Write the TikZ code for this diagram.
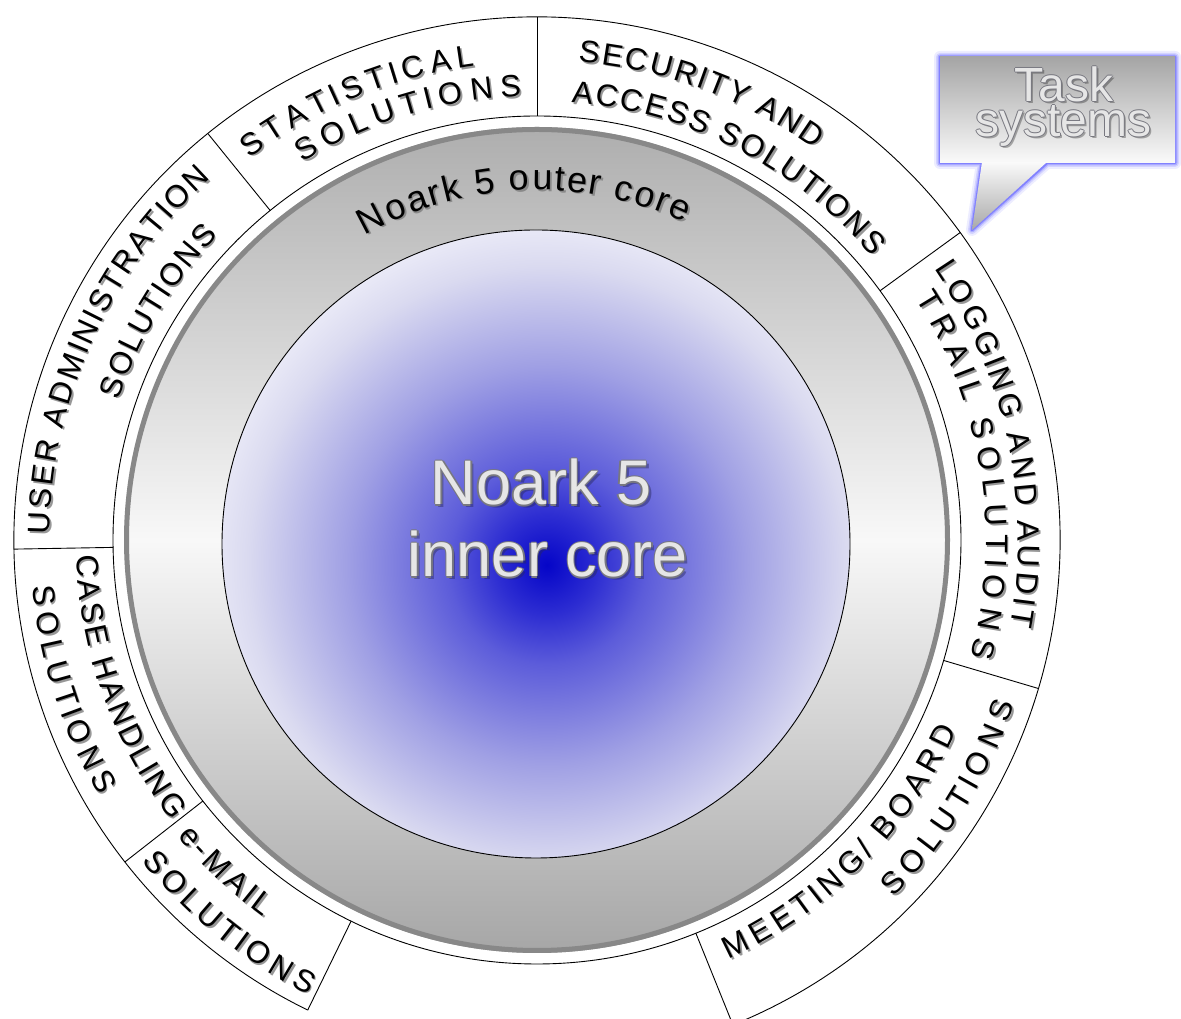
\documentclass[tikz,border=0pt]{standalone}
\usepackage{fontspec}
\setmainfont{Liberation Sans}
\usetikzlibrary{decorations.text,calc}

\definecolor{ringtop}{RGB}{174,174,174}
\definecolor{ringmid}{RGB}{248,248,248}
\definecolor{ringbot}{RGB}{166,166,166}
\definecolor{rimcol}{RGB}{136,136,136}
\definecolor{bgA}{RGB}{5,5,200}
\definecolor{bgB}{RGB}{45,45,210}
\definecolor{bgC}{RGB}{92,92,218}
\definecolor{bgD}{RGB}{160,160,228}
\definecolor{bgE}{RGB}{218,218,240}
\definecolor{bgF}{RGB}{236,236,248}
\definecolor{segshadow}{RGB}{125,125,125}
\definecolor{embfill}{RGB}{230,230,230}
\definecolor{emboutline}{RGB}{120,120,128}
\definecolor{embshadow}{RGB}{40,40,90}
\definecolor{glowblue}{RGB}{110,110,255}
\definecolor{boxtop}{RGB}{165,165,165}
\definecolor{boxmid}{RGB}{232,232,232}
\definecolor{boxbot}{RGB}{250,250,250}
\definecolor{tailtip}{RGB}{168,168,168}

\pgfdeclareradialshading{blueglow}{\pgfpoint{0bp}{0bp}}{color(0bp)=(bgA); color(3.6bp)=(bgB); color(7.2bp)=(bgC); color(14.5bp)=(bgD); color(21.7bp)=(bgE); color(25bp)=(bgF); color(50bp)=(bgF)}

\newcommand\ringtext[5][31]{%
  \path[decorate,decoration={text effects along path,text={#5},
     text effects/.cd,text along path,fit text to path,
     characters={text=segshadow,opacity=0.8,font=\fontsize{#1}{#1}\selectfont}}]
     ([shift={(1.8,-1.8)}]#3:#2) arc[start angle=#3,end angle=#4,radius=#2];
  \path[decorate,decoration={text effects along path,text={#5},
     text effects/.cd,text along path,fit text to path,
     characters={text=black,font=\fontsize{#1}{#1}\selectfont}}]
     (#3:#2) arc[start angle=#3,end angle=#4,radius=#2];
}

\tikzset{
  ringline/.style={line width=0.9pt,black},
  bigtxt/.style={font=\fontsize{63}{63}\selectfont,inner sep=0pt,anchor=base},
  tasktxt/.style={font=\fontsize{48}{48}\selectfont,inner sep=0pt,anchor=base},
}

\begin{document}
\begin{tikzpicture}[x=1pt,y=1pt]
\fill[white] (0,0) rectangle (1181,1019);
\useasboundingbox (0,0) rectangle (1181,1019);
\coordinate (C) at (537,479);

\begin{scope}[shift={(537,479)}]
  % outer white ring with segments
  \draw[ringline] (0,0) circle (424);
  \draw[ringline] (-68:523) arc[start angle=-68,end angle=244,radius=523];
  \foreach \a in {36,90,129,181,218,244,292,343.5}
    \draw[ringline] (\a:424) -- (\a:523);

  % gray outer core ring
  \shade[top color=ringtop,bottom color=ringbot,middle color=ringmid] (0,0) circle (413);
  \draw[rimcol,line width=5pt] (0,0) circle (410.5);

  % inner core
  \begin{scope}
    \clip (-1,-4) circle (314);
    \shade[shading=blueglow] (10,-25) circle (345);
  \end{scope}
  \draw[line width=0.9pt] (-1,-4) circle (314);

  % segment texts (clockwise, tops outward)
  \ringtext{478}{127}{97.5}{STATISTICAL}
  \ringtext{444}{121.9}{92}{SOLUTIONS}
  \ringtext{480}{85.1}{54.6}{SECURITY AND}
  \ringtext{439}{85.5}{40.2}{ACCESS SOLUTIONS}
  \ringtext{487}{179.4}{132}{USER ADMINISTRATION}
  \ringtext{441}{161.5}{136.3}{SOLUTIONS}
  \ringtext{481}{34.3}{-10.3}{LOGGING AND AUDIT}
  \ringtext{449}{32.5}{-15}{TRAIL SOLUTIONS}
  % segment texts (counterclockwise, tops inward)
  \ringtext{461}{181.9}{217.5}{CASE HANDLING}
  \ringtext{507}{185.3}{210.3}{SOLUTIONS}
  \ringtext{466}{219.5}{234}{e-MAIL}
  \ringtext{509}{219.1}{243.3}{SOLUTIONS}
  \ringtext{461}{294.5}{335.6}{MEETING/ BOARD}
  \ringtext{505}{314.9}{341}{SOLUTIONS}

  % outer core label
  \ringtext[36]{350}{119.5}{65}{Noark 5 outer core}

  % inner core label
  \node[bigtxt,text=embshadow,opacity=0.45] at (7,32) {Noark 5};
  \node[bigtxt,text=embshadow,opacity=0.45] at (14,-40) {inner core};
  \foreach \dx/\dy in {-1.3/0,1.3/0,0/1.3,0/-1.3}{
    \node[bigtxt,text=emboutline] at (4+\dx,35+\dy) {Noark 5};
    \node[bigtxt,text=emboutline] at (11+\dx,-37+\dy) {inner core};
  }
  \node[bigtxt,text=embfill] (inA) at (4,35) {Noark 5};
  \node[bigtxt,text=embfill] (inB) at (11,-37) {inner core};
\end{scope}

% speech bubble "Task systems"
\foreach \w/\o in {12/0.12,8/0.2,5/0.35,2.5/0.7}
  \draw[glowblue,line width=\w pt,opacity=\o,line join=round]
    (940,962) -- (1175,962) -- (1175,856) -- (1047,856) -- (972,789) -- (982,856) -- (940,856) -- cycle;
\shade[top color=boxtop,middle color=boxmid,bottom color=boxbot] (940,962) rectangle (1175,856);
\shade[top color=boxbot,bottom color=tailtip] (982,857) -- (972,789) -- (1047,857) -- cycle;

\node[tasktxt,text=black,opacity=0.3] at (1066,915) {Task};
\node[tasktxt,text=black,opacity=0.3] at (1065,880) {systems};
\foreach \dx/\dy in {-1/0,1/0,0/1,0/-1}{
  \node[tasktxt,text=emboutline] at (1064+\dx,917+\dy) {Task};
  \node[tasktxt,text=emboutline] at (1063+\dx,882+\dy) {systems};
}
\node[tasktxt,text=embfill] (task1) at (1064,917) {Task};
\node[tasktxt,text=embfill] (task2) at (1063,882) {systems};
\end{tikzpicture}
\end{document}
